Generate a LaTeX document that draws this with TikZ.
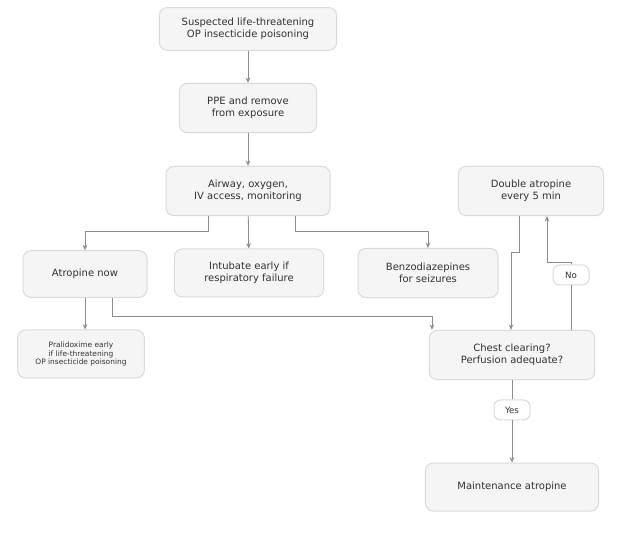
\documentclass[tikz,border=0pt]{standalone}
\usepackage{fontspec}
\setmainfont{DejaVu Sans}
\usetikzlibrary{arrows.meta}
\tikzset{every picture/.style={line width=0.75pt}}
\tikzset{
	box/.style={draw={rgb,255:red,218;green,218;blue,218}, fill={rgb,255:red,245;green,245;blue,245}, rounded corners=6pt, align=center, font=\fontsize{7.5}{8.8}\selectfont, text={rgb,255:red,50;green,50;blue,50}, inner sep=0pt},
	tag/.style={draw={rgb,255:red,218;green,218;blue,218}, fill=white, rounded corners=5pt, font=\fontsize{6.5}{8}\selectfont, minimum width=27pt, minimum height=15pt, text={rgb,255:red,50;green,50;blue,50}},
	flow/.style={draw={rgb,255:red,140;green,140;blue,140}, line width=0.6pt, -{Stealth[length=4pt,width=3.5pt]}},
	link/.style={draw={rgb,255:red,140;green,140;blue,140}, line width=0.6pt}}

\begin{document}
\begin{tikzpicture}[x=0.75pt,y=0.75pt,yscale=-1,xscale=1]
	\useasboundingbox (0,0) rectangle (640,556);

	% Boxes
	\node [box, minimum width=133pt, minimum height=32pt] (susp) at (248,29) {Suspected life-threatening\\OP insecticide poisoning};
	\node [box, minimum width=103pt, minimum height=37pt] (ppe) at (248,108) {PPE and remove\\from exposure};
	\node [box, minimum width=123pt, minimum height=37pt] (air) at (248,191) {Airway, oxygen,\\IV access, monitoring};
	\node [box, minimum width=109pt, minimum height=37pt] (dbl) at (531,191) {Double atropine\\every 5 min};
	\node [box, minimum width=93pt, minimum height=35pt] (atr) at (85,274) {Atropine now};
	\node [box, minimum width=112pt, minimum height=36pt] (intub) at (249,273) {Intubate early if\\respiratory failure};
	\node [box, minimum width=105pt, minimum height=37pt] (benzo) at (428,273) {Benzodiazepines\\for seizures};
	\node [box, minimum width=95pt, minimum height=36pt, font=\fontsize{5.6}{6.4}\selectfont] (prali) at (81,354) {Pralidoxime early\\if life-threatening\\OP insecticide poisoning};
	\node [box, minimum width=124pt, minimum height=37pt] (chest) at (512,355) {Chest clearing?\\Perfusion adequate?};
	\node [box, minimum width=130pt, minimum height=36pt] (maint) at (512,487) {Maintenance atropine};
	\node [tag] (yes) at (512,410) {Yes};
	\node [tag] (no) at (571,275) {No};

	% Connectors
	\draw [flow] (susp) -- (ppe);
	\draw [flow] (ppe) -- (air);
	\draw [flow] (air) -- (intub);
	\draw [flow] (air.south -| 208,0) -- (208,231) -- (85,231) -- (atr.north);
	\draw [flow] (air.south -| 295,0) -- (295,231) -- (428,231) -- (benzo.north);
	\draw [flow] (atr.south) -- (prali.north -| atr.south);
	\draw [flow] (atr.south -| 112,0) -- (112,316) -- (432,316) -- (chest.north -| 432,0);
	\draw [flow] (dbl.south -| 519,0) -- (519,252) -- (511,252) -- (chest.north -| 511,0);
	\draw [link] (chest.north -| no) -- (no);
	\draw [flow] (no.north) -- (571,262) -- (547,262) -- (dbl.south -| 547,0);
	\draw [link] (chest) -- (yes);
	\draw [flow] (yes) -- (maint);

\end{tikzpicture}
\end{document}
